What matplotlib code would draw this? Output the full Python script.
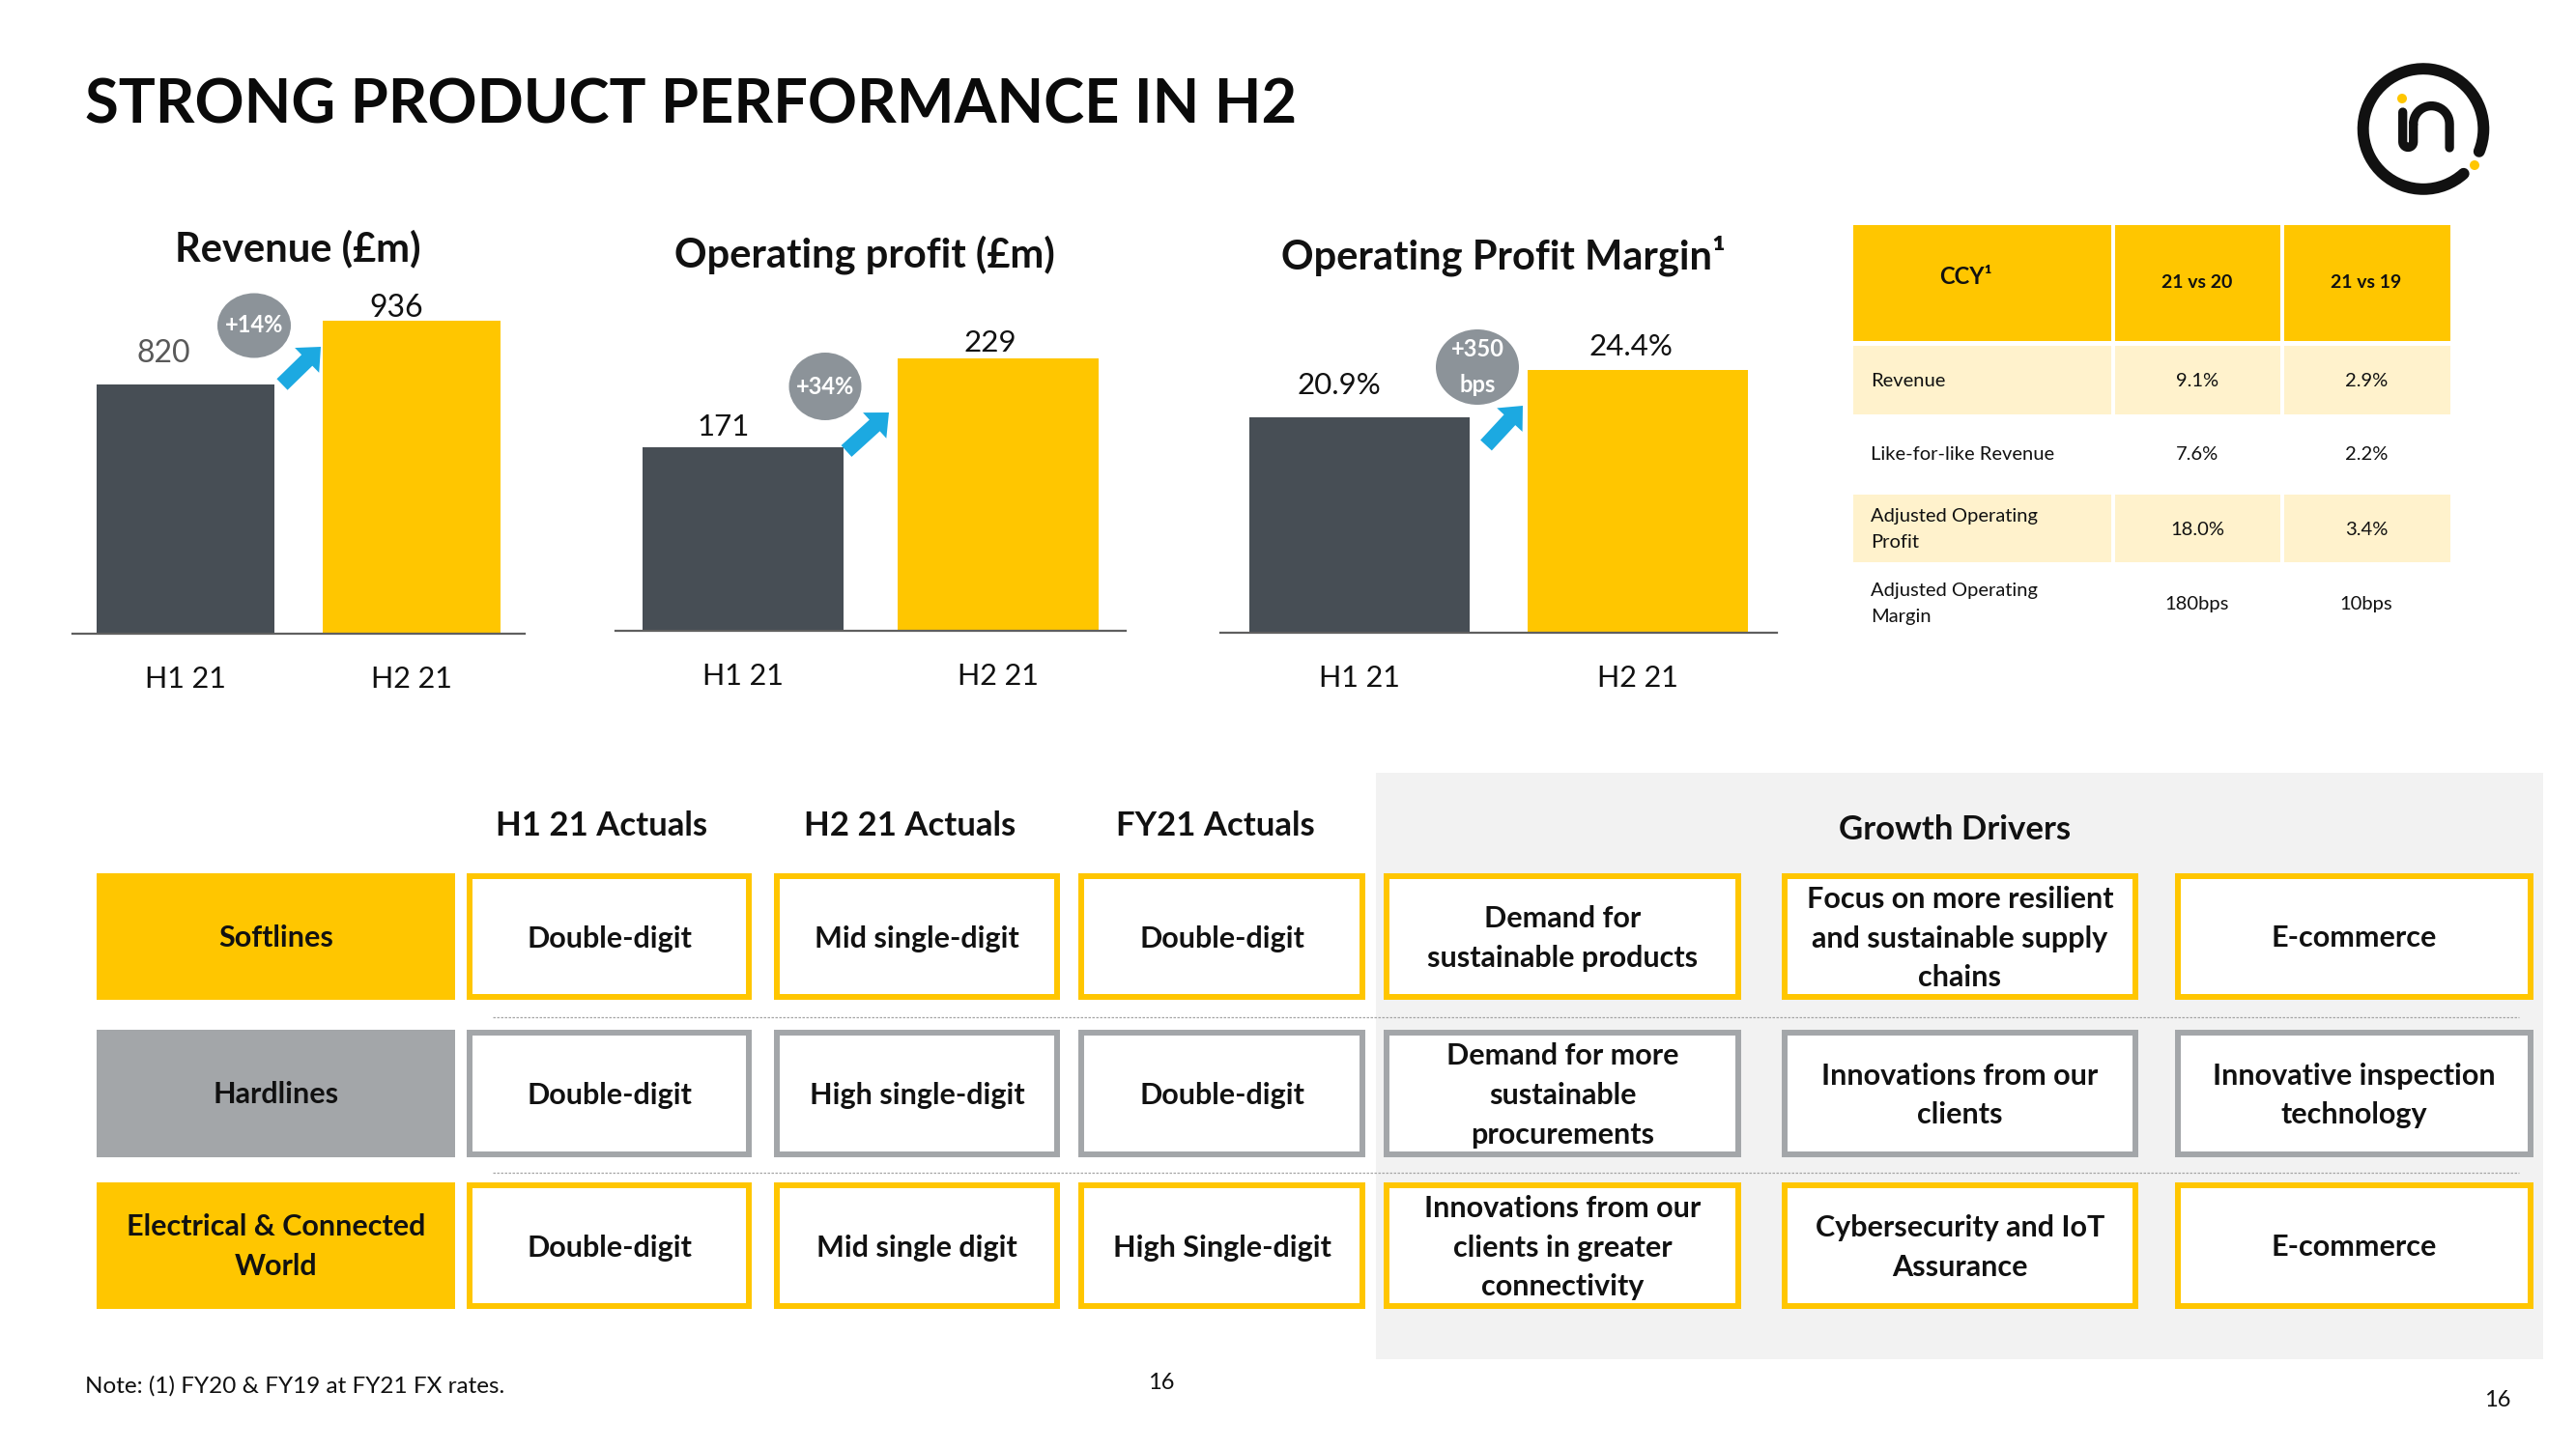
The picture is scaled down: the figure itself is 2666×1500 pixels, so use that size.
import numpy as np
import matplotlib
matplotlib.use("Agg")
import matplotlib.pyplot as plt
from matplotlib.patches import Rectangle, Ellipse, Arc, Circle, FancyArrow, PathPatch
from matplotlib.path import Path

plt.rcParams['font.family'] = ['Lato', 'DejaVu Sans']

W, H = 2666, 1500
YELLOW = '#FFC600'
DARK = '#474E55'
GREY_BOX = '#A3A6A9'
BADGE = '#8C9399'
BLUE = '#1CA9E1'
INK = '#111111'

# ---- data ----
periods = ['H1 21', 'H2 21']
revenue = [820, 936]
op_profit = [171, 229]
op_margin = [20.9, 24.4]
badges = ['+14%', '+34%', '+350\nbps']

ccy_head = ['CCY¹', '21 vs 20', '21 vs 19']
ccy_rows = ['Revenue', 'Like-for-like Revenue', 'Adjusted Operating\nProfit', 'Adjusted Operating\nMargin']
ccy_vs20 = ['9.1%', '7.6%', '18.0%', '180bps']
ccy_vs19 = ['2.9%', '2.2%', '3.4%', '10bps']

divisions = ['Softlines', 'Hardlines', 'Electrical & Connected\nWorld']
actual_cols = ['H1 21 Actuals', 'H2 21 Actuals', 'FY21 Actuals']
h1_actuals = ['Double-digit', 'Double-digit', 'Double-digit']
h2_actuals = ['Mid single-digit', 'High single-digit', 'Mid single digit']
fy_actuals = ['Double-digit', 'Double-digit', 'High Single-digit']
drivers_a = ['Demand for\nsustainable products', 'Demand for more\nsustainable\nprocurements',
             'Innovations from our\nclients in greater\nconnectivity']
drivers_b = ['Focus on more resilient\nand sustainable supply\nchains', 'Innovations from our\nclients',
             'Cybersecurity and IoT\nAssurance']
drivers_c = ['E-commerce', 'Innovative inspection\ntechnology', 'E-commerce']

fig = plt.figure(figsize=(W / 100, H / 100), dpi=100)


def px_axes(left, top, right, bottom):
    return fig.add_axes([left / W, 1 - bottom / H, (right - left) / W, (bottom - top) / H])


def bar_chart(left, right, base, ylim, values, fmt, offsets, colors, fs):
    ax = px_axes(left, base - 400, right, base)
    x = np.arange(len(values))
    ax.bar(x, values, width=0.79, color=[DARK, YELLOW], zorder=2)
    ax.set_xlim(-0.5, 1.5)
    ax.set_ylim(*ylim)
    for s in ['top', 'left', 'right']:
        ax.spines[s].set_visible(False)
    ax.spines['bottom'].set_color('#5F5F5F')
    ax.spines['bottom'].set_linewidth(1.6)
    ax.set_xticks([])
    ax.set_yticks([])
    ax.patch.set_visible(False)
    for i, v in enumerate(values):
        ax.annotate(fmt.format(v), xy=(i, v), xytext=offsets[i], textcoords='offset pixels',
                    ha='center', va='baseline', fontsize=fs, color=colors[i], annotation_clip=False)
        ax.annotate(periods[i], xy=(i, 0), xycoords=('data', 'axes fraction'), xytext=(0, -56),
                    textcoords='offset pixels', ha='center', va='baseline', fontsize=22,
                    color=INK, annotation_clip=False)
    return ax


bar_chart(75, 543, 655.7, (367, 1071), revenue, '{:.0f}', [(-23, 23), (-16, 4)], ['#595959', INK], 23)
bar_chart(637, 1165, 653, (51.2, 303.4), op_profit, '{:.0f}', [(-20, 12), (-8, 7)], [INK, INK], 22.5)
bar_chart(1263, 1839, 655, (4.97, 33.54), op_margin, '{:.1f}%', [(-21, 24), (-7, 15)], [INK, INK], 22.5)

# ---- overlay in pixel coordinates ----
ov = fig.add_axes([0, 0, 1, 1])
ov.set_xlim(0, W)
ov.set_ylim(H, 0)
ov.axis('off')
ov.patch.set_visible(False)

ov.text(88, 128, 'STRONG PRODUCT PERFORMANCE IN H2', fontsize=45.5, fontweight='bold',
        color='#0A0A0A', ha='left', va='baseline')

ov.text(308, 270, 'Revenue (£m)', fontsize=30, fontweight='bold', ha='center', va='baseline', color=INK)
ov.text(895, 277, 'Operating profit (£m)', fontsize=30, fontweight='bold', ha='center', va='baseline', color=INK)
ov.text(1556, 278, 'Operating Profit Margin¹', fontsize=30, fontweight='bold', ha='center', va='baseline', color=INK)

# growth badges and arrows
badge_geo = [(263, 337, 76, 67), (854, 400, 75, 70), (1529, 380, 86, 78)]
arrow_geo = [(292, 398, 332, 359), (876, 467, 920, 427), (1538, 461, 1576, 420)]
for txt, (cx, cy, bw, bh), (x0, y0, x1, y1) in zip(badges, badge_geo, arrow_geo):
    ov.add_patch(Ellipse((cx, cy), bw, bh, color=BADGE, lw=0))
    ov.text(cx, cy, txt, fontsize=17, fontweight='bold', color='white', ha='center', va='center',
            linespacing=1.7)
    ov.add_patch(FancyArrow(x0, y0, x1 - x0, y1 - y0, width=16, head_width=36, head_length=20,
                            length_includes_head=True, color=BLUE, lw=0))

# CCY table
col_x = [(1918, 2185), (2189, 2360), (2364, 2536)]
row_y = [(358, 431), (431, 512), (512, 584), (584, 660)]
for c, (xa, xb) in enumerate(col_x):
    ov.add_patch(Rectangle((xa, 233), xb - xa, 120, color=YELLOW, lw=0))
    for r in (0, 2):
        ya, yb = row_y[r]
        ov.add_patch(Rectangle((xa, ya), xb - xa, yb - ya - 2, color='#FFF2CC', lw=0))
ov.text(2034, 286, ccy_head[0], fontsize=17, fontweight='bold', ha='center', va='center', color=INK)
ov.text(2274, 293, ccy_head[1], fontsize=14, fontweight='bold', ha='center', va='center', color=INK)
ov.text(2449, 293, ccy_head[2], fontsize=14, fontweight='bold', ha='center', va='center', color=INK)
row_cy = [394, 471, 548, 625]
for r in range(4):
    ov.text(1936, row_cy[r], ccy_rows[r], fontsize=14.5, ha='left', va='center', color=INK, linespacing=1.7)
    ov.text(2274, row_cy[r], ccy_vs20[r], fontsize=14.5, ha='center', va='center', color=INK)
    ov.text(2449, row_cy[r], ccy_vs19[r], fontsize=14.5, ha='center', va='center', color=INK)

# bottom grid
ov.add_patch(Rectangle((1424, 800), 2632 - 1424, 1407 - 800, color='#F2F2F2', lw=0))
for yy in (1053, 1214):
    ov.plot([510, 2607], [yy, yy], color='#A6A6A6', lw=0.9, ls=(0, (2, 1.2)))

head_x = [623, 942, 1258]
for hx, ht in zip(head_x, actual_cols):
    ov.text(hx, 855, ht, fontsize=25, fontweight='bold', ha='center', va='center', color=INK)
ov.text(2023, 859, 'Growth Drivers', fontsize=25, fontweight='bold', ha='center', va='center', color=INK)

grid_rows = [(904, 1035), (1066, 1198), (1224, 1355)]
row_color = [YELLOW, GREY_BOX, YELLOW]
cell_cols = [(483, 778), (801, 1097), (1116, 1413), (1432, 1802), (1844, 2213), (2251, 2622)]
columns = [h1_actuals, h2_actuals, fy_actuals, drivers_a, drivers_b, drivers_c]
for r, (ya, yb) in enumerate(grid_rows):
    ov.add_patch(Rectangle((100, ya), 371, yb - ya, color=row_color[r], lw=0))
    ov.text(285.5, (ya + yb) / 2 + 1, divisions[r], fontsize=22, fontweight='bold', ha='center',
            va='center', color=INK, linespacing=1.55)
    for (xa, xb), col in zip(cell_cols, columns):
        ov.add_patch(Rectangle((xa + 3, ya + 3), xb - xa - 6, yb - ya - 6, facecolor='white',
                               edgecolor=row_color[r], lw=4.3))
        ov.text((xa + xb) / 2, (ya + yb) / 2 + 2, col[r], fontsize=22, fontweight='bold', ha='center',
                va='center', color=INK, linespacing=1.55)

# footer
ov.text(88, 1435, 'Note: (1) FY20 & FY19 at FY21 FX rates.', fontsize=17.5, ha='left', va='center', color=INK)
ov.text(1202, 1432, '16', fontsize=17, ha='center', va='center', color=INK)
ov.text(2585, 1450, '16', fontsize=17, ha='center', va='center', color=INK)

# logo
lcx, lcy = 2508, 133.5
ov.add_patch(Arc((lcx, lcy), 124.6, 124.6, theta1=48, theta2=382, color='#111111', lw=8.6,
                 capstyle='round'))
ov.add_patch(Circle((2561, 171), 5, color=YELLOW, lw=0))
ov.add_patch(Circle((2486, 102), 5, color=YELLOW, lw=0))
t1 = np.linspace(np.pi, 0, 12)
t2 = np.linspace(np.pi, 2 * np.pi, 24)
xs = [2486.7, 2486.7] + list(2492.2 + 5.5 * np.cos(t1)) + [2497.7] + \
     list(2516.4 + 18.7 * np.cos(t2)) + [2535.1]
ys = [116, 147] + list(147 + 5.5 * np.sin(t1)) + [128.3] + \
     list(128.3 + 18.7 * np.sin(t2)) + [153]
ov.add_patch(PathPatch(Path(np.column_stack([xs, ys])), facecolor='none', edgecolor='#111111',
                       lw=6.7, capstyle='round', joinstyle='round'))

fig.savefig('out.png', dpi=100)
